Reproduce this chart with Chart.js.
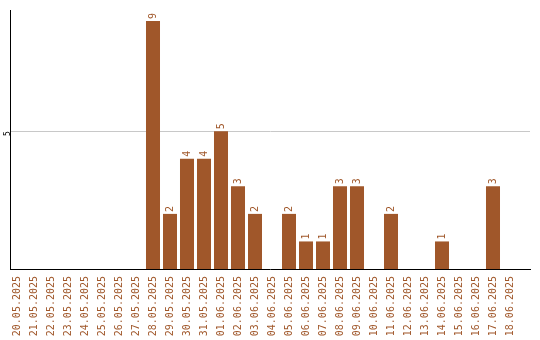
<!DOCTYPE html>
<html><head><meta charset="utf-8">
<script src="https://cdn.jsdelivr.net/npm/chart.js@4/dist/chart.umd.min.js"></script>
<style>html,body{margin:0;padding:0;background:#fff}#w{width:540px;height:340px}</style>
</head><body><div id="w"><canvas id="c"></canvas></div>
<script>
const categories = ["20.05.2025","21.05.2025","22.05.2025","23.05.2025","24.05.2025","25.05.2025","26.05.2025","27.05.2025","28.05.2025","29.05.2025","30.05.2025","31.05.2025","01.06.2025","02.06.2025","03.06.2025","04.06.2025","05.06.2025","06.06.2025","07.06.2025","08.06.2025","09.06.2025","10.06.2025","11.06.2025","12.06.2025","13.06.2025","14.06.2025","15.06.2025","16.06.2025","17.06.2025","18.06.2025"];
const counts = [0,0,0,0,0,0,0,0,9,2,4,4,5,3,2,0,2,1,1,3,3,0,2,0,0,1,0,0,3,0];
const yTickLabels = [5];

const BROWN = '#a0572a';
const FONT = '"DejaVu Sans Mono", monospace';

const valueLabels = {
  id: 'valueLabels',
  afterDatasetsDraw(chart) {
    const ctx = chart.ctx;
    const meta = chart.getDatasetMeta(0);
    ctx.save();
    ctx.fillStyle = BROWN;
    ctx.font = '10px ' + FONT;
    ctx.textAlign = 'left';
    ctx.textBaseline = 'middle';
    meta.data.forEach((bar, i) => {
      const v = counts[i];
      if (!v) return;
      ctx.save();
      ctx.translate(bar.x, bar.y - 2);
      ctx.rotate(-Math.PI / 2);
      ctx.fillText(String(v), 0, 0);
      ctx.restore();
    });
    ctx.restore();
  }
};

new Chart(document.getElementById('c'), {
  type: 'bar',
  data: { datasets: [{ data: counts.map((v, i) => ({ x: i, y: v })), backgroundColor: BROWN, barPercentage: 0.824, categoryPercentage: 1 }] },
  options: {
    responsive: true, maintainAspectRatio: false, animation: false,
    layout: { padding: { top: 10, right: 10, left: 0, bottom: 0 } },
    plugins: { legend: { display: false }, tooltip: { enabled: false } },
    scales: {
      x: {
        type: 'linear',
        min: -7 / 17, max: 513 / 17,
        offset: false,
        afterBuildTicks(s) { s.ticks = categories.map((c, i) => ({ value: i })); },
        grid: { display: false, drawTicks: false },
        border: { color: '#000', width: 1 },
        ticks: { color: BROWN, font: { family: FONT, size: 10 }, minRotation: 90, maxRotation: 90, padding: 7, autoSkip: false,
          callback: (v) => categories[v] },
        afterFit(s) { s.height = 71; }
      },
      y: {
        min: 0, max: 9.4,
        afterBuildTicks(s) { s.ticks = yTickLabels.map(v => ({ value: v })); },
        grid: { color: '#c8c8c8', drawTicks: false },
        border: { color: '#000', width: 1 },
        ticks: { color: '#000', font: { family: FONT, size: 8 }, minRotation: 90, maxRotation: 90, padding: 2 },
        afterFit(s) { s.width = 10; }
      }
    }
  },
  plugins: [valueLabels]
});
</script></body></html>
